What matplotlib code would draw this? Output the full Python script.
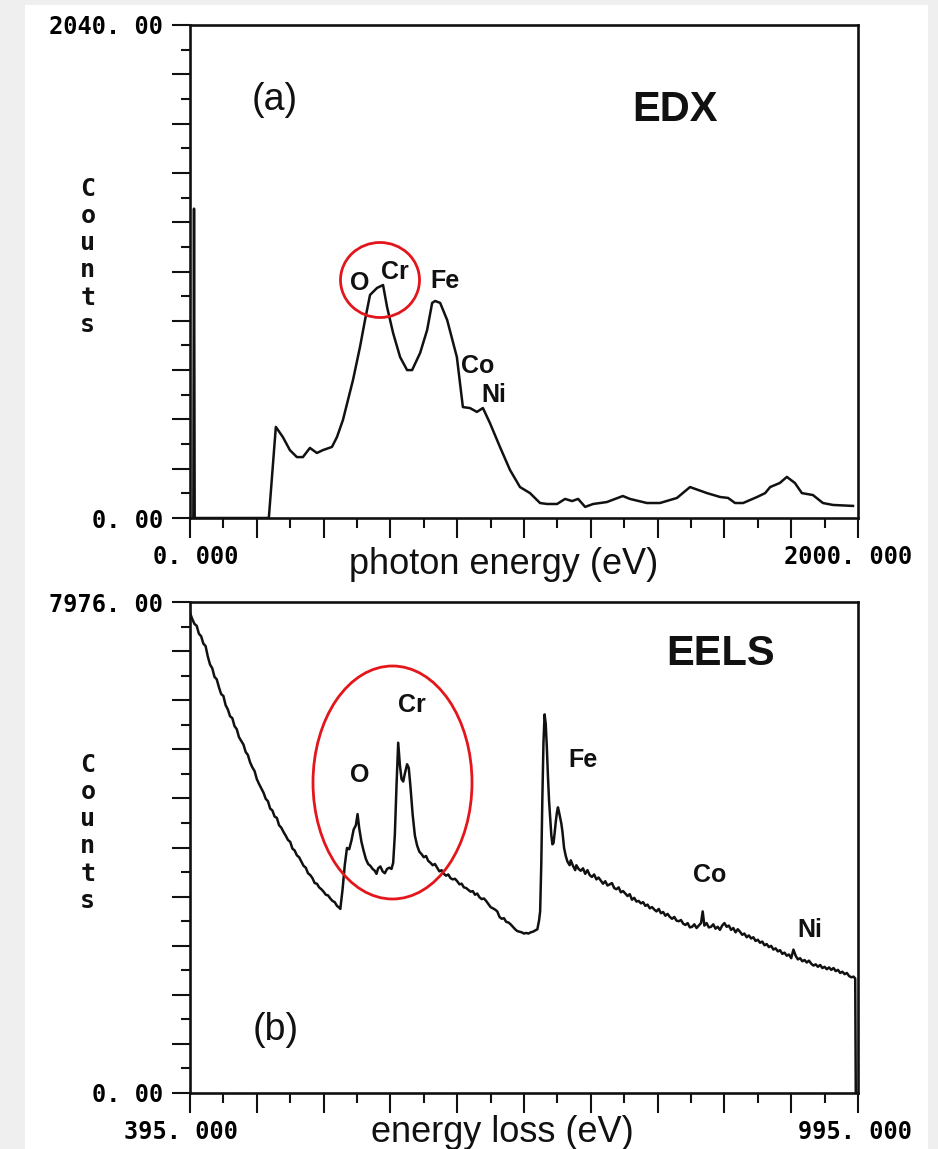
import matplotlib
matplotlib.use("Agg")
import matplotlib.pyplot as plt
import numpy as np
from matplotlib.patches import Ellipse, Rectangle
from matplotlib.transforms import ScaledTranslation

plt.rcParams['font.family'] = 'DejaVu Sans Mono'
plt.rcParams['font.weight'] = 'bold'

# --- EDX spectrum (photon energy in eV, counts) ---
edx_ev = [0, 10, 12, 14, 236, 257, 278, 299, 320, 338, 359, 380, 398, 425, 440,
          458, 488, 509, 524, 539, 560, 578, 590, 608, 629, 650, 665, 689, 710,
          725, 734, 749, 770, 799, 817, 838, 859, 877, 898, 928, 958, 988, 1018,
          1048, 1069, 1099, 1123, 1144, 1162, 1183, 1207, 1248, 1296, 1317, 1368,
          1407, 1458, 1497, 1548, 1587, 1611, 1632, 1656, 1698, 1722, 1737, 1766,
          1787, 1811, 1832, 1865, 1895, 1925, 1985]
edx_counts = [0, 0, 1280, 0, 0, 377, 335, 281, 252, 252, 290, 269, 281, 294, 335,
              406, 571, 708, 819, 923, 952, 964, 873, 766, 666, 612, 612, 683, 778,
              890, 898, 890, 819, 666, 459, 455, 439, 455, 393, 294, 199, 128, 103,
              62, 58, 58, 79, 70, 79, 46, 58, 66, 91, 79, 62,
              62, 83, 128, 103, 87, 83, 62, 62, 87, 103, 128, 145,
              170, 145, 103, 95, 62, 54, 50]

# --- EELS spectrum (energy loss in eV, counts) ---
eels_ev = [395, 397, 399, 401, 403, 405, 407, 409, 411, 413, 415, 417, 419, 421,
           423, 425, 427, 429, 431, 433, 435, 437, 439, 441, 443, 445, 447, 449,
           451, 453, 455, 457, 459, 461, 463, 465, 467, 469, 471, 473, 475, 477,
           479, 481, 483, 485, 487, 489, 491, 493, 495, 497, 499, 501, 503, 505,
           507, 509, 511, 513, 515, 517, 519, 521, 523, 525, 527, 529, 530,
           532, 534, 536, 538, 540, 542, 544, 545.5, 547, 549, 551, 553, 555, 557,
           559, 561, 562.5, 564, 566, 568, 570, 572, 574, 576, 577.5, 579, 580.5,
           582, 583.5, 585, 586.5, 588, 590, 591.5, 593, 595, 597, 599, 601, 603,
           605, 607, 609, 611, 613, 615, 617, 619, 621, 623, 625, 627, 629, 631,
           633, 635, 637, 639, 641, 643, 645, 647, 649, 651, 653, 655, 657, 659,
           661, 663, 665, 667, 669, 671, 673, 675, 677, 679, 681, 683, 685, 687,
           689, 691, 693, 695, 697, 699, 701, 703, 705, 707, 708.5, 709.5, 710.5,
           711.5, 712.5, 713.5, 714.5, 715.5, 716.5, 717.5, 718.5, 719.5, 720.5,
           721.5, 722.5, 723.5, 724.5, 725.5, 726.5, 727.5, 728.5, 729.5, 731,
           732.5, 734, 736, 737, 739, 741, 742, 744, 746, 748, 750, 752, 754, 756,
           758, 760, 762, 764, 766, 768, 770, 772, 774, 776, 778, 780, 782, 784,
           786, 788, 790, 792, 794, 796, 798, 800, 802, 804, 806, 808, 810, 812,
           814, 816, 818, 820, 822, 824, 826, 828, 830, 832, 834, 836, 838, 840,
           842, 844, 846, 848, 850, 852, 854, 855.5, 857, 859, 861, 863, 865, 867,
           869, 871, 873, 875, 877, 879, 881, 883, 885, 887, 889, 891, 893, 895,
           897, 899, 901, 903, 905, 907, 909, 911, 913, 915, 917, 919, 921, 923,
           925, 927, 929, 931, 933, 935, 937, 939, 941, 943, 945, 947, 949, 951,
           953, 955, 957, 959, 961, 963, 965, 967, 969, 971, 973, 975, 977, 979,
           981, 983, 985, 987, 989, 991, 992.5, 993, 995]
eels_counts = [7800, 7700, 7620, 7590, 7460, 7420, 7300, 7260, 7090, 6960, 6900, 6760, 6720, 6590,
               6480, 6450, 6300, 6230, 6120, 6090, 5960, 5910, 5780, 5720, 5660, 5540, 5490, 5370,
               5290, 5230, 5100, 5020, 4950, 4880, 4780, 4740, 4620, 4590, 4490, 4470, 4350, 4310,
               4240, 4180, 4110, 4080, 3970, 3940, 3860, 3830, 3760, 3690, 3660, 3570, 3540, 3490,
               3410, 3400, 3340, 3310, 3270, 3220, 3210, 3160, 3120, 3100, 3040, 3010, 2990,
               3300, 3700, 3980, 3960, 4100, 4280, 4350, 4530, 4300, 4080, 3930, 3800, 3720, 3690,
               3640, 3610, 3560, 3650, 3680, 3600, 3570, 3640, 3660, 3640, 3740, 4200, 5000,
               5690, 5330, 5100, 5060, 5190, 5340, 5280, 4980, 4520, 4180, 4020, 3920, 3880,
               3830, 3850, 3770, 3740, 3700, 3720, 3660, 3600, 3620, 3560, 3530, 3550, 3490, 3470,
               3480, 3440, 3390, 3400, 3340, 3330, 3300, 3270, 3280, 3220, 3240, 3180, 3150, 3160,
               3120, 3070, 3020, 3000, 2980, 2950, 2860, 2830, 2840, 2780, 2770, 2740, 2700, 2660,
               2630, 2620, 2610, 2590, 2600, 2590, 2610, 2620, 2640, 2660, 2800, 2950, 3700,
               4800, 5700, 6150, 6000, 5620, 5150, 4750, 4480, 4200, 4040,
               4060, 4220, 4400, 4550, 4640, 4560, 4470, 4380, 4250, 3980,
               3850, 3760, 3700, 3780, 3690, 3620, 3700, 3640, 3610, 3650, 3560, 3620, 3540, 3510,
               3550, 3470, 3500, 3450, 3400, 3440, 3370, 3390, 3410, 3330, 3310, 3340, 3260, 3280,
               3240, 3200, 3230, 3140, 3170, 3110, 3120, 3080, 3100, 3040, 3060, 3000, 3020, 2980,
               2950, 2990, 2920, 2940, 2880, 2910, 2860, 2830, 2860, 2800, 2790, 2810, 2750, 2730,
               2760, 2690, 2700, 2740, 2680, 2720, 2760, 2950, 2720, 2760, 2690, 2700, 2740, 2670,
               2700, 2650, 2720, 2760, 2700, 2720, 2650, 2680, 2610, 2660, 2620, 2570, 2590, 2530,
               2560, 2510, 2530, 2470, 2490, 2440, 2460, 2400, 2420, 2370, 2390, 2330, 2350, 2300,
               2320, 2260, 2280, 2230, 2250, 2190, 2330, 2230, 2170, 2190, 2140, 2160, 2120, 2150,
               2100, 2070, 2090, 2050, 2080, 2030, 2050, 2010, 2040, 2000, 2030, 1980, 2000, 1950,
               1970, 1930, 1950, 1900, 1880, 1890, 1860, 0, 0]

# element labels (eV, counts)
edx_elements = ['O', 'Cr', 'Fe', 'Co', 'Ni']
edx_label_ev = [509, 614, 763, 862, 910]
edx_label_counts = [972, 1018, 981, 629, 509]
eels_elements = ['O', 'Cr', 'Fe', 'Co', 'Ni']
eels_label_ev = [547, 594, 748, 862, 952]
eels_label_counts = [5166, 6303, 5409, 3541, 2648]

W, H = 938, 1149
fig = plt.figure(figsize=(W / 100, H / 100), dpi=100, facecolor='#efefef')
fig.add_artist(Rectangle((25 / W, 0), 903 / W, 1144 / H, transform=fig.transFigure,
                         facecolor='white', edgecolor='none', zorder=-5))

sans = 'Liberation Sans'
ink = '#111111'


def panel(rect, ev, counts, xlim, ylim, xlabel, xlab_pos):
    ax = fig.add_axes(rect)
    ax.plot(ev, counts, color=ink, lw=1.8, solid_joinstyle='round')
    ax.set_xlim(xlim)
    ax.set_ylim(ylim)
    xmaj = np.linspace(xlim[0], xlim[1], 11)
    xmin = np.linspace(xlim[0], xlim[1], 21)
    ymaj = np.linspace(ylim[0], ylim[1], 11)
    ymin = np.linspace(ylim[0], ylim[1], 21)
    xl = [('%.3f' % v).replace('.', '. ') for v in xlim]
    yl = [('%.2f' % v).replace('.', '. ') for v in ylim]
    ax.set_xticks(xmaj, labels=[xl[0]] + [''] * 9 + [xl[1]])
    ax.set_xticks(xmin, minor=True)
    ax.set_yticks(ymaj, labels=[yl[0]] + [''] * 9 + [yl[1]])
    ax.set_yticks(ymin, minor=True)
    ax.tick_params(axis='x', which='major', direction='out', length=14.4, width=1.5,
                   pad=5, labelsize=17, color=ink)
    ax.tick_params(axis='x', which='minor', direction='out', length=7.2, width=1.5, color=ink)
    ax.tick_params(axis='y', which='major', direction='out', length=13, width=1.5,
                   pad=6.5, labelsize=17, color=ink)
    ax.tick_params(axis='y', which='minor', direction='out', length=6.5, width=1.5, color=ink)
    for sp in ax.spines.values():
        sp.set_linewidth(1.9)
        sp.set_color(ink)
    # end labels sit to the right of their ticks
    for lbl, dx in zip([ax.get_xticklabels()[0], ax.get_xticklabels()[-1]], [48, 54]):
        lbl.set_ha('right')
        lbl.set_transform(lbl.get_transform() + ScaledTranslation(dx / 100, 0, fig.dpi_scale_trans))
    ax.set_xlabel(xlabel, fontsize=26, fontfamily=sans, fontweight='normal', color=ink)
    ax.xaxis.label.set_va('center')
    ax.xaxis.set_label_coords(*xlab_pos)
    ax.set_ylabel('C\no\nu\nn\nt\ns', rotation=0, fontsize=18, fontweight='bold',
                  linespacing=1.17, va='center', ha='center', color=ink)
    ax.yaxis.set_label_coords(-0.153, 0.53)
    return ax


ax1 = panel([190 / W, 1 - 518 / H, 668 / W, 493 / H], edx_ev, edx_counts,
            (0, 2000), (0, 2040), 'photon energy (eV)', (0.47, -0.095))
ax2 = panel([190 / W, 1 - 1093 / H, 668 / W, 491 / H], eels_ev, eels_counts,
            (395, 995), (0, 7976), 'energy loss (eV)', (0.467, -0.081))

for ax, names, xs, ys in [(ax1, edx_elements, edx_label_ev, edx_label_counts),
                          (ax2, eels_elements, eels_label_ev, eels_label_counts)]:
    for n, x, y in zip(names, xs, ys):
        ax.text(x, y, n, fontfamily=sans, fontweight='bold', fontsize=18,
                ha='center', va='center', color=ink)

ax1.text(0.127, 0.848, '(a)', transform=ax1.transAxes, fontfamily=sans,
         fontweight='normal', fontsize=27, ha='center', va='center', color=ink)
ax1.text(0.726, 0.828, 'EDX', transform=ax1.transAxes, fontfamily=sans,
         fontweight='bold', fontsize=30, ha='center', va='center', color=ink)
ax2.text(0.129, 0.128, '(b)', transform=ax2.transAxes, fontfamily=sans,
         fontweight='normal', fontsize=27, ha='center', va='center', color=ink)
ax2.text(0.795, 0.894, 'EELS', transform=ax2.transAxes, fontfamily=sans,
         fontweight='bold', fontsize=30, ha='center', va='center', color=ink)

# red rings around the O / Cr region
for cx, cy, w, h in [(380, 280, 79, 75), (392.5, 782.5, 159, 233)]:
    fig.add_artist(Ellipse((cx / W, 1 - cy / H), w / W, h / H, transform=fig.transFigure,
                           fill=False, edgecolor='#e3161b', lw=2.0, zorder=10))

fig.savefig('out.png', dpi=100, facecolor=fig.get_facecolor())
